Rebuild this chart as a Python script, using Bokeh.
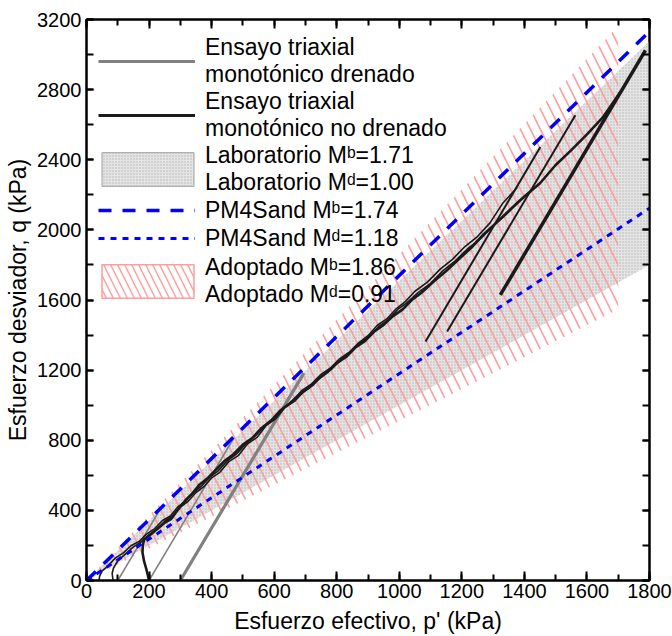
from bokeh.plotting import figure
from bokeh.models import Range1d, LinearAxis, SingleIntervalTicker, Legend, LegendItem
from bokeh.embed import file_html
from bokeh.resources import INLINE

NAN = float("nan")

# ---------------- data ----------------
# envelopes (p', q) end points
lab_zone_p = [0, 1800, 1800]
lab_zone_q = [0, 1800, 3078]          # Mb=1.71 (upper), Md=1.00 (lower)
adop_zone_p = [0, 1700, 1700]
adop_zone_q = [0, 1547, 3162]         # Mb=1.86 (upper), Md=0.91 (lower)
pm4_b_p = [0, 1800]
pm4_b_q = [0, 3132]                   # Mb=1.74
pm4_d_p = [0, 1800]
pm4_d_q = [0, 2124]                   # Md=1.18

# drained monotonic triaxial tests
dr1_p = [100, 240]
dr1_q = [0, 420]
dr2_p = [200, 470]
dr2_q = [0, 810]
dr3_p = [300, 695]
dr3_q = [0, 1183]

# undrained monotonic triaxial tests
und1_p = [40, 42, 50, 68, 92, 118, 142, 168, 192, 218, 243, 268, 293, 318, 343, 368, 393, 420,
          450, 480, 510, 540, 570, 600, 630, 660, 690, 720, 750, 780, 810, 840, 870, 900, 930,
          960, 990, 1020, 1050, 1090, 1130, 1170, 1210, 1250, 1290, 1330, 1377]
und1_q = [0, 25, 55, 82, 128, 158, 198, 222, 265, 296, 342, 368, 422, 455, 502, 540, 588, 624,
          682, 722, 782, 826, 882, 926, 986, 1026, 1086, 1122, 1176, 1212, 1266, 1302, 1356, 1396, 1456,
          1492, 1550, 1592, 1650, 1702, 1775, 1832, 1905, 1962, 2040, 2150, 2242]
und2_p = [85, 82, 86, 100, 124, 150, 174, 200, 224, 250, 274, 300, 325, 350, 375, 400, 425, 455,
          485, 515, 545, 575, 605, 635, 665, 695, 725, 755, 785, 815, 845, 875, 905, 935, 965,
          995, 1025, 1060, 1100, 1140, 1180, 1220, 1260, 1300, 1340, 1380, 1420]
und2_q = [0, 40, 70, 112, 150, 192, 218, 262, 290, 338, 368, 418, 452, 502, 535, 585, 615, 678,
          712, 780, 816, 885, 922, 988, 1022, 1078, 1115, 1172, 1208, 1262, 1300, 1356, 1392, 1450, 1488,
          1546, 1585, 1642, 1695, 1768, 1825, 1895, 1950, 2022, 2085, 2160, 2221]
und3_p = [200, 192, 184, 179, 180, 184, 205, 230, 252, 270, 290, 315, 340, 362, 385, 410, 440, 470,
          500, 530, 560, 590, 620, 650, 680, 710, 740, 770, 800, 830, 860, 890, 920, 950, 980,
          1010, 1040, 1070, 1110, 1150, 1190, 1230, 1270, 1310, 1350, 1400, 1450, 1500, 1550, 1600,
          1650, 1707]
und3_q = [0, 60, 110, 160, 200, 233, 262, 300, 332, 350, 398, 455, 500, 548, 580, 625, 680, 720,
          775, 812, 870, 912, 970, 1010, 1060, 1098, 1148, 1188, 1240, 1275, 1330, 1365, 1420, 1458, 1508,
          1545, 1600, 1640, 1705, 1765, 1832, 1898, 1975, 2040, 2108, 2190, 2266, 2370, 2455, 2545,
          2640, 2786]
lineA_p = [1084, 1451]
lineA_q = [1363, 2473]
lineB_p = [1153, 1563]
lineB_q = [1420, 2654]
lineC_p = [1323, 1787]
lineC_q = [1629, 3024]

x_ticks_interval = 200
y_ticks_interval = 400

labels = [
    "Ensayo triaxial\nmonotónico drenado",
    "Ensayo triaxial\nmonotónico no drenado",
    "Laboratorio M\u1d47=1.71\nLaboratorio M\u1d48=1.00",
    "PM4Sand M\u1d47=1.74",
    "PM4Sand M\u1d48=1.18",
    "Adoptado M\u1d47=1.86\nAdoptado M\u1d48=0.91",
]

FONT = "Liberation Sans"
GRAY_FILL = "#e4e4e4"
GRAY_DOT = "#b4b4b4"
HATCH_RED = "#ff9c9c"
BLUE = "#0000ff"

# ---------------- figure ----------------
p = figure(width=672, height=636, x_range=Range1d(0, 1800), y_range=Range1d(0, 3200),
           output_backend="svg", toolbar_location=None,
           min_border_left=86, min_border_right=23, min_border_top=19, min_border_bottom=55)
p.xgrid.visible = False
p.ygrid.visible = False
p.outline_line_color = "black"
p.outline_line_width = 2
p.background_fill_color = "white"
p.border_fill_color = "white"

xt = SingleIntervalTicker(interval=x_ticks_interval, num_minor_ticks=2)
yt = SingleIntervalTicker(interval=y_ticks_interval, num_minor_ticks=2)

for ax, tk in ((p.xaxis[0], xt), (p.yaxis[0], yt)):
    ax.ticker = tk
    ax.major_tick_in = 9
    ax.major_tick_out = 0
    ax.minor_tick_in = 6 if tk is xt else 7
    ax.minor_tick_out = 0
    ax.axis_line_width = 2
    ax.major_tick_line_width = 2
    ax.minor_tick_line_width = 2
    ax.major_label_text_font = FONT
    ax.major_label_text_font_size = "20px"
    ax.major_label_text_color = "black"
    ax.axis_label_text_font = FONT
    ax.axis_label_text_font_size = "23px"
    ax.axis_label_text_font_style = "normal"
    ax.axis_label_text_color = "black"
p.yaxis[0].major_tick_in = 7
p.xaxis[0].axis_label = "Esfuerzo efectivo, p' (kPa)"
p.yaxis[0].axis_label = "Esfuerzo desviador, q (kPa)"
p.xaxis[0].major_label_standoff = 3
p.yaxis[0].major_label_standoff = 5
p.xaxis[0].axis_label_standoff = 7
p.yaxis[0].axis_label_standoff = 3

for loc, tk in (("above", xt), ("right", yt)):
    ax = LinearAxis(ticker=tk, major_label_text_font_size="0px", major_label_standoff=0,
                    major_tick_in=9 if tk is xt else 7, major_tick_out=0,
                    minor_tick_in=6 if tk is xt else 7, minor_tick_out=0,
                    axis_line_width=2, major_tick_line_width=2, minor_tick_line_width=2)
    p.add_layout(ax, loc)

# zones
p.patch(lab_zone_p, lab_zone_q, fill_color=GRAY_FILL, line_color=None,
        hatch_pattern="dot", hatch_color=GRAY_DOT, hatch_scale=3, hatch_weight=1)
p.patch(adop_zone_p, adop_zone_q, fill_alpha=0, line_color=None,
        hatch_pattern="\\", hatch_color=HATCH_RED, hatch_scale=20, hatch_weight=1.6)

# drained tests
p.line(dr1_p, dr1_q, line_color="#808080", line_width=1.5)
p.line(dr2_p, dr2_q, line_color="#808080", line_width=1.5)
r_dr = p.line(dr3_p, dr3_q, line_color="#808080", line_width=3.2)

# undrained tests
p.line(und1_p, und1_q, line_color="#1a1a1a", line_width=1.6)
p.line(und2_p, und2_q, line_color="#1a1a1a", line_width=1.6)
p.line(und3_p, und3_q, line_color="#1a1a1a", line_width=2.6)
p.line(lineA_p, lineA_q, line_color="#1a1a1a", line_width=2)
p.line(lineB_p, lineB_q, line_color="#1a1a1a", line_width=2)
p.line(lineC_p, lineC_q, line_color="#1a1a1a", line_width=3.5)

# PM4Sand lines
r_b = p.line(pm4_b_p, pm4_b_q, line_color=BLUE, line_width=3.5, line_dash="13 11")
r_d = p.line(pm4_d_p, pm4_d_q, line_color=BLUE, line_width=3, line_dash="6 6")

# legend-only renderers (no visible data)
r_und_leg = p.line([NAN, NAN], [NAN, NAN], line_color="#1a1a1a", line_width=3.2)
r_lab_leg = p.patch([NAN, NAN, NAN], [NAN, NAN, NAN], fill_color=GRAY_FILL, line_color="#a0a0a0",
                    line_width=1, hatch_pattern="dot", hatch_color=GRAY_DOT, hatch_scale=3,
                    hatch_weight=1)
r_adop_leg = p.patch([NAN, NAN, NAN], [NAN, NAN, NAN], fill_alpha=0, line_color=HATCH_RED,
                     line_width=1.5, hatch_pattern="\\", hatch_color=HATCH_RED, hatch_scale=14,
                     hatch_weight=1.4)

# legend locations are bottom-left corners measured from the frame's bottom-left
def make_legend(items, loc, gw, gh, standoff):
    lg = Legend(items=items, location=loc)
    lg.label_text_font = FONT
    lg.label_text_font_size = "23px"
    lg.label_text_color = "black"
    lg.label_text_line_height = 1.22
    lg.glyph_width = gw
    lg.glyph_height = gh
    lg.label_height = 28
    lg.label_standoff = standoff
    lg.spacing = 0
    lg.padding = 0
    lg.margin = 0
    lg.background_fill_alpha = 0
    lg.border_line_alpha = 0
    p.add_layout(lg)
    return lg

make_legend([LegendItem(label=labels[0], renderers=[r_dr]),
             LegendItem(label=labels[1], renderers=[r_und_leg])], (12, 438), 97, 28, 10)
make_legend([LegendItem(label=labels[2], renderers=[r_lab_leg])], (4, 384), 115, 42, 0)
make_legend([LegendItem(label=labels[3], renderers=[r_b]),
             LegendItem(label=labels[4], renderers=[r_d])], (12, 328), 97, 28, 10)
make_legend([LegendItem(label=labels[5], renderers=[r_adop_leg])], (4, 272), 115, 42, 0)

open("out.html", "w").write(file_html(p, INLINE))
